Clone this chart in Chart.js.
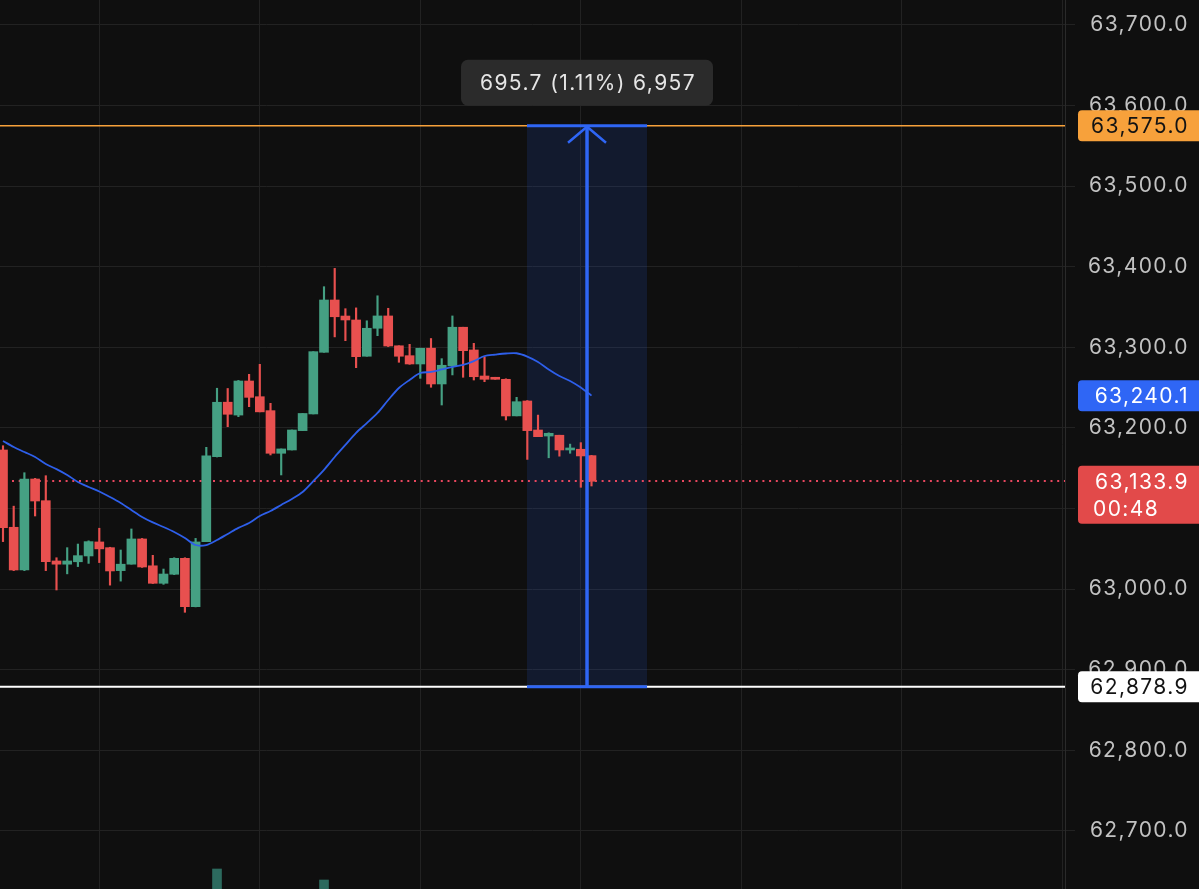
<!DOCTYPE html>
<html>
<head>
<meta charset="utf-8">
<script src="https://cdn.jsdelivr.net/npm/chart.js@4.4.1/dist/chart.umd.min.js"></script>
<style>
  html, body { margin: 0; padding: 0; background: #0f0f0f; }
  #wrap { width: 1199px; height: 889px; position: relative; }
</style>
</head>
<body>
<div id="wrap"><canvas id="chart"></canvas></div>
<script>
// candle data (one entry per bar)
const opens  = [63172.7, 63076.8, 63023.8, 63136.7, 63109.8, 63035.0, 63031.0, 63034.0, 63041.2, 63058.6,
                63051.5, 63023.0, 63031.0, 63062.3, 63029.0, 63007.3, 63018.5, 63038.3, 62978.3, 63059.0,
                63164.4, 63232.0, 63216.0, 63258.3, 63238.8, 63221.5, 63168.6, 63172.7, 63196.7, 63217.4,
                63293.9, 63358.8, 63338.9, 63334.0, 63289.0, 63323.7, 63339.0, 63302.0, 63289.7, 63279.4,
                63299.0, 63254.6, 63277.0, 63325.0, 63296.8, 63264.5, 63262.9, 63260.4, 63215.0, 63233.5,
                63197.5, 63190.0, 63191.0, 63172.7, 63173.6, 63165.7];
const highs  = [63178.0, 63103.0, 63144.5, 63137.5, 63140.8, 63039.0, 63051.5, 63056.0, 63060.0, 63075.6,
                63052.0, 63048.6, 63074.7, 63063.0, 63042.0, 63025.0, 63039.0, 63039.0, 63063.0, 63176.0,
                63249.3, 63249.0, 63259.0, 63266.6, 63279.0, 63230.6, 63174.0, 63197.5, 63218.0, 63294.7,
                63375.3, 63398.0, 63348.0, 63349.0, 63333.0, 63364.0, 63348.5, 63302.0, 63303.8, 63299.0,
                63311.0, 63286.0, 63339.0, 63325.0, 63305.0, 63288.5, 63262.9, 63261.0, 63238.0, 63234.0,
                63216.0, 63194.0, 63191.0, 63180.0, 63181.8, 63166.0];
const lows   = [63059.0, 63023.0, 63023.0, 63090.8, 63023.0, 62999.0, 63019.0, 63028.0, 63032.0, 63033.0,
                63005.0, 63010.0, 63031.0, 63027.0, 63007.0, 63006.0, 63018.0, 62971.3, 62978.0, 63059.0,
                63164.0, 63201.6, 63214.0, 63226.4, 63220.0, 63166.5, 63141.7, 63172.7, 63196.7, 63217.4,
                63293.9, 63313.0, 63308.3, 63274.8, 63289.0, 63314.5, 63301.0, 63281.5, 63279.0, 63261.6,
                63250.5, 63228.5, 63265.8, 63262.9, 63259.5, 63257.4, 63260.4, 63209.9, 63215.0, 63161.0,
                63189.2, 63163.0, 63165.0, 63168.6, 63126.4, 63128.0];
const closes = [63076.3, 63023.8, 63136.7, 63109.4, 63034.1, 63031.0, 63035.0, 63041.6, 63059.0, 63050.0,
                63022.6, 63031.0, 63062.3, 63027.5, 63007.3, 63018.8, 63038.3, 62978.3, 63058.6, 63165.3,
                63231.9, 63217.0, 63258.3, 63238.0, 63220.0, 63168.6, 63174.0, 63197.5, 63218.0, 63294.7,
                63358.8, 63338.0, 63334.0, 63288.5, 63323.7, 63339.0, 63301.7, 63289.0, 63279.4, 63298.9,
                63254.6, 63277.8, 63325.0, 63295.9, 63263.6, 63260.4, 63260.4, 63214.9, 63232.6, 63196.7,
                63189.2, 63193.4, 63172.7, 63175.2, 63165.3, 63133.9];
// moving average (blue line)
const maValues = [63183.9, 63176.4, 63170.2, 63164.0, 63155.3, 63149.0, 63141.7, 63133.0, 63126.8, 63121.2,
                  63114.4, 63107.0, 63098.3, 63089.6, 63082.8, 63077.2, 63071.0, 63063.5, 63054.8, 63054.8,
                  63061.0, 63068.5, 63076.0, 63082.0, 63090.8, 63097.0, 63104.5, 63112.0, 63120.6, 63134.0,
                  63148.0, 63164.0, 63179.0, 63194.0, 63206.0, 63218.6, 63234.7, 63249.6, 63259.6, 63268.2,
                  63269.5, 63272.6, 63275.7, 63278.2, 63283.0, 63289.3, 63291.0, 63292.4, 63292.7, 63288.6,
                  63281.9, 63272.6, 63264.5, 63258.3, 63250.2, 63240.1];
// volume: only the tops of two bars are visible at the bottom edge
const volumeBars = {20: 20, 30: 9};

const yTickValues = [62700, 62800, 62900, 63000, 63100, 63200, 63300, 63400, 63500, 63600, 63700];
const xGridBars = [9, 24, 39, 54, 69, 84, 99];

const lastPrice = 63133.9;
const countdown = '00:48';
const maLast = 63240.1;
const alertPrice = 63575.0;
const basePrice = 62878.9;
const rulerFrom = 48.97, rulerTo = 60.19, rulerAt = 54.58;
const rulerText = '695.7 (1.11%) 6,957';

const UP = '#45a083', DOWN = '#e8504f';
const idx = opens.map((_, i) => i);
const candleColor = idx.map(i => closes[i] >= opens[i] ? UP : DOWN);
const fmt = v => v.toLocaleString('en-US', { minimumFractionDigits: 1, maximumFractionDigits: 1 });
const FAMILY = 'Inter, "Noto Sans", sans-serif';
const FONT = '21px ' + FAMILY;
const SPACING = '1.4px';

function axisBox(ctx, a, y, lines, bg, fg) {
  const x0 = a.right + 13, w = 1199 - x0 + 4, lh = 27;
  const h = 31 + (lines.length - 1) * lh;
  const top = y - 15.5;
  ctx.fillStyle = bg;
  ctx.beginPath();
  ctx.roundRect(x0, top, w, h, 4);
  ctx.fill();
  ctx.fillStyle = fg;
  ctx.font = FONT;
  ctx.textBaseline = 'middle';
  lines.forEach((t, k) => {
    if (k === 0) { ctx.textAlign = 'right'; ctx.fillText(t, 1189, y + 1); }
    else { ctx.textAlign = 'left'; ctx.fillText(t, 1093, y + 1 + k * lh); }
  });
}

const overlay = {
  id: 'overlay',
  beforeDraw(chart) {
    chart.ctx.letterSpacing = SPACING;
  },
  beforeDatasetsDraw(chart) {
    const { ctx, chartArea: a, scales: { x, y } } = chart;
    ctx.save();
    const x0 = x.getPixelForValue(rulerFrom), x1 = x.getPixelForValue(rulerTo);
    const yt = y.getPixelForValue(alertPrice), yb = y.getPixelForValue(basePrice);
    ctx.fillStyle = 'rgba(41, 98, 255, 0.13)';
    ctx.fillRect(x0, yt, x1 - x0, yb - yt);
    const yl = Math.round(y.getPixelForValue(lastPrice));
    ctx.strokeStyle = '#e8475f';
    ctx.lineWidth = 2;
    ctx.setLineDash([2, 4.7]);
    ctx.beginPath(); ctx.moveTo(a.left + 12, yl); ctx.lineTo(a.right, yl); ctx.stroke();
    ctx.restore();
  },
  afterDatasetsDraw(chart) {
    const { ctx, chartArea: a, scales: { x, y } } = chart;
    const x0 = x.getPixelForValue(rulerFrom), x1 = x.getPixelForValue(rulerTo);
    const xm = x.getPixelForValue(rulerAt);
    const yt = y.getPixelForValue(alertPrice), yb = y.getPixelForValue(basePrice);
    ctx.save();
    // alert line
    ctx.strokeStyle = '#f7a13b'; ctx.lineWidth = 1.5;
    ctx.beginPath(); ctx.moveTo(a.left, yt); ctx.lineTo(a.right, yt); ctx.stroke();
    // base line
    ctx.strokeStyle = '#ffffff'; ctx.lineWidth = 2;
    ctx.beginPath(); ctx.moveTo(a.left, yb); ctx.lineTo(a.right, yb); ctx.stroke();
    // ruler
    ctx.strokeStyle = '#2f66f5'; ctx.lineWidth = 3;
    ctx.beginPath(); ctx.moveTo(x0, yt); ctx.lineTo(x1, yt); ctx.stroke();
    ctx.beginPath(); ctx.moveTo(x0, yb); ctx.lineTo(x1, yb); ctx.stroke();
    ctx.lineWidth = 3.5;
    ctx.beginPath(); ctx.moveTo(xm, yb); ctx.lineTo(xm, yt + 1); ctx.stroke();
    ctx.lineWidth = 2.5;
    ctx.beginPath(); ctx.moveTo(xm - 19, yt + 17); ctx.lineTo(xm, yt + 1); ctx.lineTo(xm + 19, yt + 17); ctx.stroke();
    ctx.restore();
  },
  afterDraw(chart) {
    const { ctx, chartArea: a, scales: { x, y } } = chart;
    ctx.save();
    axisBox(ctx, a, y.getPixelForValue(alertPrice), [fmt(alertPrice)], '#f7a13b', '#131313');
    axisBox(ctx, a, y.getPixelForValue(maLast), [fmt(maLast)], '#2f66f5', '#ffffff');
    axisBox(ctx, a, y.getPixelForValue(lastPrice), [fmt(lastPrice), countdown], '#e24a4a', '#ffffff');
    axisBox(ctx, a, y.getPixelForValue(basePrice), [fmt(basePrice)], '#ffffff', '#131313');
    // ruler tooltip
    const xm = x.getPixelForValue(rulerAt);
    ctx.font = FONT;
    const tw = ctx.measureText(rulerText).width;
    const bw = tw + 36, bh = 46;
    const by = y.getPixelForValue(alertPrice) - 66;
    ctx.fillStyle = '#2b2b2b';
    ctx.beginPath(); ctx.roundRect(xm - bw / 2, by, bw, bh, 7); ctx.fill();
    ctx.fillStyle = '#e6e6e6';
    ctx.textAlign = 'center'; ctx.textBaseline = 'middle';
    ctx.fillText(rulerText, xm + 1, by + bh / 2 + 1);
    ctx.restore();
  }
};

new Chart(document.getElementById('chart'), {
  type: 'bar',
  data: {
    datasets: [
      {
        type: 'line', label: 'MA', order: 0,
        data: idx.map(i => ({ x: i, y: maValues[i] })),
        borderColor: '#2e5fea', borderWidth: 1.8, pointRadius: 0, tension: 0.3
      },
      {
        label: 'wick', order: 2, grouped: false,
        data: idx.map(i => ({ x: i, y: [lows[i], highs[i]] })),
        backgroundColor: candleColor, barThickness: 1.5, minBarLength: 1
      },
      {
        label: 'body', order: 1, grouped: false,
        data: idx.map(i => ({ x: i, y: [opens[i], closes[i]] })),
        backgroundColor: candleColor, barThickness: 9, minBarLength: 1.5
      },
      {
        label: 'volume', order: 3, grouped: false, yAxisID: 'yv',
        data: Object.keys(volumeBars).map(k => ({ x: +k, y: volumeBars[k] })),
        backgroundColor: '#2c6a5e', barThickness: 9
      }
    ]
  },
  options: {
    responsive: true,
    maintainAspectRatio: false,
    animation: false,
    layout: { padding: { left: 0, top: 0, bottom: 0, right: 10 } },
    plugins: { legend: { display: false }, tooltip: { enabled: false } },
    scales: {
      x: {
        type: 'linear', offset: false, min: -0.28, max: 99.25,
        afterBuildTicks: s => { s.ticks = xGridBars.map(v => ({ value: v })); },
        ticks: { display: false },
        grid: { color: '#222222', drawTicks: false, offset: false },
        border: { display: false },
        afterFit: s => { s.height = 0; s.paddingLeft = 0; s.paddingRight = 0; }
      },
      y: {
        position: 'right', min: 62628, max: 63731,
        afterBuildTicks: s => { s.ticks = yTickValues.map(v => ({ value: v })); },
        ticks: { color: '#c2c2c2', font: { family: FAMILY, size: 21 },
                 callback: v => fmt(v), crossAlign: 'far', padding: 0 },
        grid: { color: '#222222', tickLength: 10 },
        border: { color: '#2a2a2a' },
        afterFit: s => { s.width = 124; s.paddingTop = 0; s.paddingBottom = 0; }
      },
      yv: { display: false, min: 0, max: 889 }
    }
  },
  plugins: [overlay]
});
</script>
</body>
</html>
